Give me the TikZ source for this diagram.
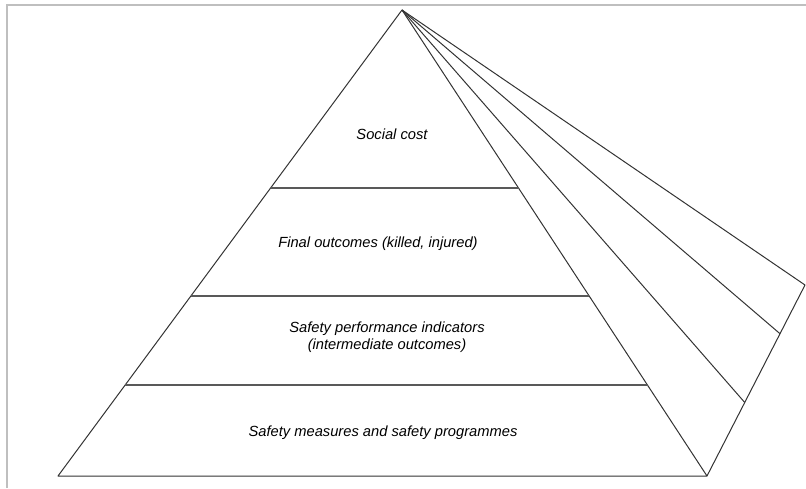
\documentclass[tikz,border=0pt]{standalone}
\usepackage{fontspec}
\setmainfont{Liberation Sans}
\usetikzlibrary{calc}
\tikzset{
  edge/.style={draw, black!80, line width=1pt, line join=round},
  % horizontal lines between the tiers
  level/.style={draw, black!65, line width=1.4pt},
  frame/.style={draw, black!25, line width=1.6pt},
  tier/.style={align=center, font={\itshape\fontsize{14.7}{17.5}\selectfont}}
}

\begin{document}
\begin{tikzpicture}[x=1pt, y=-1pt]
\useasboundingbox (0,0) rectangle (806,488);

% -------------------------------------------------
% frame round the figure
\draw[frame] (7,488) -- (7,5) -- (806,5);

% -------------------------------------------------
% corners of the pyramid
\coordinate (apex) at (402,10);
\coordinate (bl) at (58,476);
\coordinate (br) at (707,476);
\coordinate (back) at (805,285);

% points on the back edge
\coordinate (b1) at ($(br)!0.385!(back)$);
\coordinate (b2) at ($(br)!0.745!(back)$);

% front face and side face
\draw[edge] (bl) -- (apex) -- (br) -- cycle;
\draw[edge] (apex) -- (back) -- (br);
\draw[edge] (apex) -- (b1);
\draw[edge] (apex) -- (b2);

% tier borders
\foreach \f/\n in {0.382/one, 0.614/two, 0.805/three} {
  \coordinate (l\n) at ($(apex)!\f!(bl)$);
  \coordinate (r\n) at ($(apex)!\f!(br)$);
  \draw[level] (l\n) -- (r\n);
}

% -------------------------------------------------
% tier labels
\node[tier] (cost) at (392,134) {Social cost};
\node[tier] (final) at (378,244) {Final outcomes (killed, injured)};
\node[tier] (spi) at (387,337) {Safety performance indicators\\(intermediate outcomes)};
\node[tier] (measures) at (383,433) {Safety measures and safety programmes};

\end{tikzpicture}
\end{document}
